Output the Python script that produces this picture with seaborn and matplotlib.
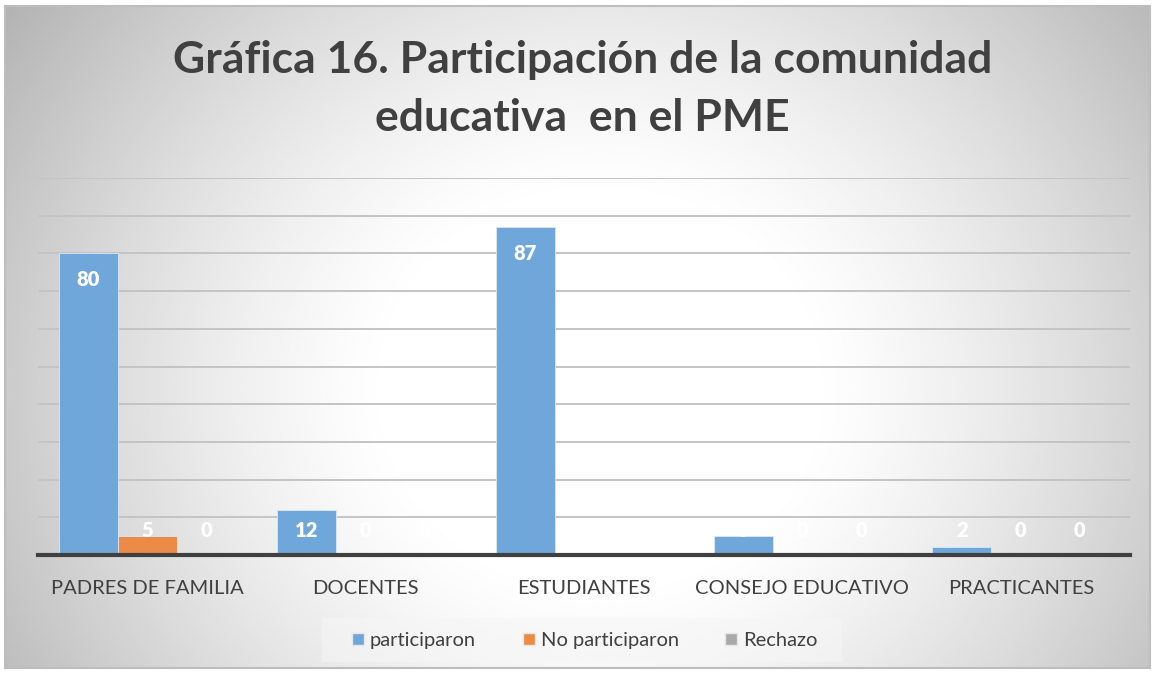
import numpy as np
import pandas as pd
import seaborn as sns
import matplotlib.pyplot as plt
from matplotlib.patches import Rectangle

categorias = ["PADRES DE FAMILIA", "DOCENTES", "ESTUDIANTES", "CONSEJO EDUCATIVO", "PRACTICANTES"]
participaron = [80, 12, 87, 5, 2]
no_participaron = [5, 0, 0, 0, 0]
rechazo = [0, 0, 0, 0, 0]
series = ["participaron", "No participaron", "Rechazo"]
colores = ["#6FA7DA", "#EC8B47", "#A9A9A9"]

data = pd.DataFrame({
    "categoria": categorias * 3,
    "serie": [s for s in series for _ in categorias],
    "valor": participaron + no_participaron + rechazo,
})

sns.set_theme(style="white")
plt.rcParams["font.family"] = ["Lato", "DejaVu Sans"]

fig = plt.figure(figsize=(11.56, 6.74), dpi=100)

# fondo con degradado radial dentro del marco
bg = fig.add_axes([5 / 1156, 6 / 674, 1145 / 1156, 662 / 674])
yy, xx = np.mgrid[0:1:300j, 0:1:500j]
r = np.sqrt(((xx - 0.52) / 0.6) ** 2 + ((yy - 0.58) / 0.95) ** 2)
g = 1.0 - 0.22 * np.clip((r - 0.3) / 0.6, 0, 1.3) ** 1.3
bg.imshow(g, cmap="gray", vmin=0, vmax=1, aspect="auto", extent=[0, 1, 1, 0])
bg.set_xlim(0, 1)
bg.set_ylim(1, 0)
bg.axis("off")
fig.patches.append(Rectangle((5 / 1156, 6 / 674), 1145 / 1156, 662 / 674,
                             transform=fig.transFigure, fill=False,
                             edgecolor="#BDBDBD", linewidth=1.5))

ax = fig.add_axes([38 / 1156, 1 - 555 / 674, 1092 / 1156, 377 / 674])
ax.set_facecolor("none")
sns.barplot(data=data, x="categoria", y="valor", hue="serie", palette=colores,
            width=0.81, ax=ax, legend=False, edgecolor="#DDE8F3", linewidth=0.6,
            saturation=1)
ax.set_ylim(0, 100)
ax.set_yticks(np.arange(10, 101, 10))
ax.set_yticklabels([])
ax.grid(axis="y", color="#C4C4C4", linewidth=1.4)
ax.set_axisbelow(True)
for s in ["top", "right", "left"]:
    ax.spines[s].set_visible(False)
ax.spines["bottom"].set_color("#404040")
ax.spines["bottom"].set_linewidth(3)
ax.set_xlabel("")
ax.set_ylabel("")
ax.tick_params(axis="x", length=0, pad=18, labelsize=14.5, labelcolor="#404040")
ax.tick_params(axis="y", length=0)

# etiquetas de datos
for container in ax.containers:
    for bar in container:
        v = bar.get_height()
        ax.text(bar.get_x() + bar.get_width() / 2, max(v - 7, 6.6), f"{v:.0f}",
                ha="center", va="center", color="white", fontsize=14.5,
                fontweight="heavy")

fig.text(0.504, 1 - 60 / 674, "Gráfica 16. Participación de la comunidad",
         ha="center", va="center", fontsize=32, fontweight="bold", color="#404040")
fig.text(0.504, 1 - 118 / 674, "educativa  en el PME",
         ha="center", va="center", fontsize=32, fontweight="bold", color="#404040")

# leyenda
fig.patches.append(Rectangle((322 / 1156, 1 - 662 / 674), 520 / 1156, 44 / 674,
                             transform=fig.transFigure, facecolor="#F6F6F6",
                             edgecolor="none", alpha=0.5))
handles = [plt.Line2D([], [], marker="s", linestyle="", markersize=9,
                      markerfacecolor=c, markeredgecolor="#E6E6E6") for c in colores]
fig.legend(handles, series, loc="center", bbox_to_anchor=(0.505, 1 - 640 / 674),
           ncol=3, frameon=False, fontsize=14.5, labelcolor="#404040",
           handletextpad=0.2, columnspacing=2.2, handlelength=0.8)

fig.savefig("out.png", dpi=100)
